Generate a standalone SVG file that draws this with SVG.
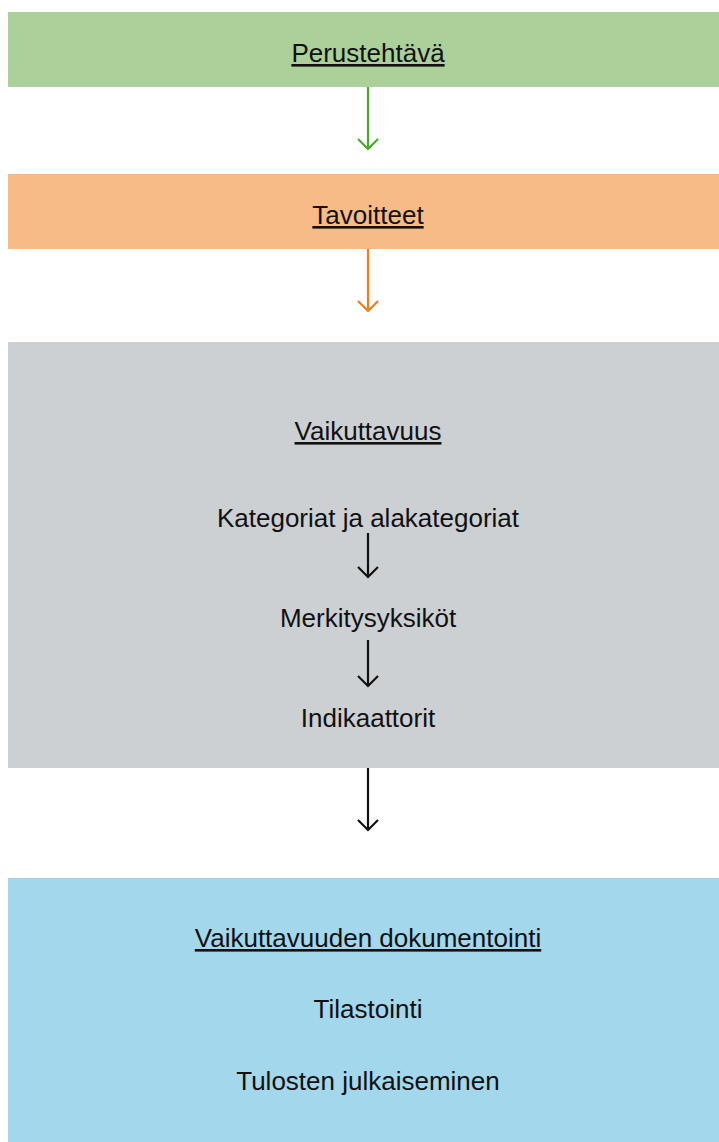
<svg xmlns="http://www.w3.org/2000/svg" width="719" height="1142" viewBox="0 0 719 1142">
<style>
text{font-family:"Liberation Sans","Open Sans",sans-serif;font-size:26px;fill:#111;text-anchor:middle}
.u{text-decoration:underline}
.ln{fill:none;stroke-width:2.2}
</style>
<rect width="719" height="1142" fill="#fff"/>
<g id="perustehtava">
<rect x="8" y="12" width="711" height="75" fill="#acd09a"/>
<text x="368" y="62" class="u">Perustehtävä</text>
</g>
<g id="tavoitteet">
<rect x="8" y="174" width="711" height="75" fill="#f6bb87"/>
<text x="368" y="224" class="u">Tavoitteet</text>
</g>
<g id="vaikuttavuus">
<rect x="8" y="342" width="711" height="426" fill="#ccd0d3"/>
<text x="368" y="440" class="u">Vaikuttavuus</text>
<text x="368" y="527">Kategoriat ja alakategoriat</text>
<text x="368" y="627">Merkitysyksiköt</text>
<text x="368" y="727">Indikaattorit</text>
</g>
<g id="dokumentointi">
<rect x="8" y="878" width="711" height="264" fill="#a3d7eb"/>
<text x="368" y="947" class="u">Vaikuttavuuden dokumentointi</text>
<text x="368" y="1018">Tilastointi</text>
<text x="368" y="1090">Tulosten julkaiseminen</text>
</g>
<g id="connectors">
<path class="ln" stroke="#4aa82a" d="M368 87V149M358 139L368 149L378 139"/>
<path class="ln" stroke="#ee7f1a" d="M368 249V311M358 301L368 311L378 301"/>
<path class="ln" stroke="#111" d="M368 533V577M358 567L368 577L378 567"/>
<path class="ln" stroke="#111" d="M368 640V686M358 676L368 686L378 676"/>
<path class="ln" stroke="#111" d="M368 768V830M358 820L368 830L378 820"/>
</g>
</svg>
